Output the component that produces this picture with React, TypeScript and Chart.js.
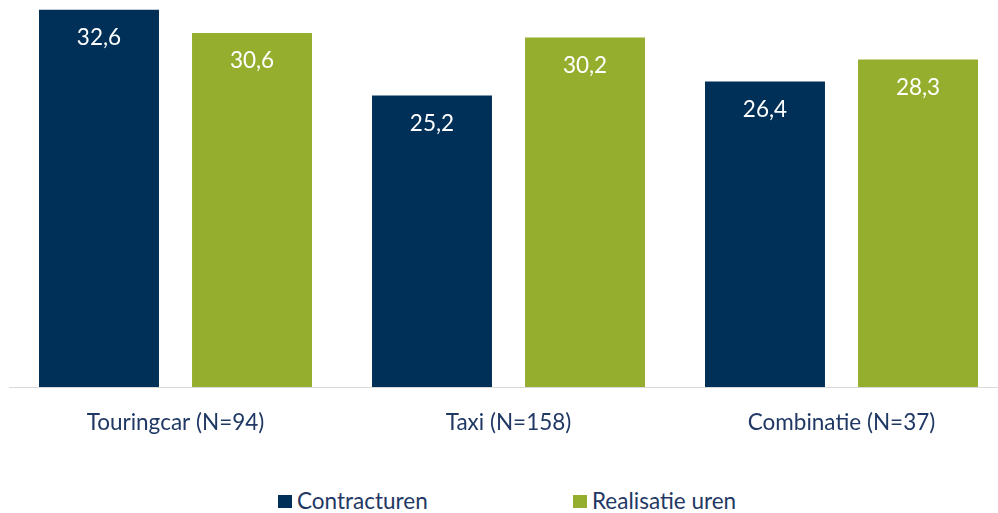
import React, { useEffect, useRef } from "react";
import { Chart, registerables } from "chart.js";

Chart.register(...registerables);

const categories = ["Touringcar (N=94)", "Taxi (N=158)", "Combinatie (N=37)"];
const contracturen = [32.6, 25.2, 26.4];
const realisatieUren = [30.6, 30.2, 28.3];
const seriesNames = ["Contracturen", "Realisatie uren"];
const yMax = 35;

const NAVY = "#003057";
const GREEN = "#95AE2E";
const TEXT = "#1F3864";
const FONT = "Lato, 'Open Sans', sans-serif";
const FS = 22.5;

const valueLabels = {
  id: "valueLabels",
  afterDatasetsDraw(chart: any) {
    const ctx = chart.ctx;
    ctx.save();
    ctx.font = `${FS}px ${FONT}`;
    ctx.fillStyle = "#ffffff";
    ctx.textAlign = "center";
    ctx.textBaseline = "middle";
    chart.data.datasets.forEach((ds: any, i: number) => {
      const meta = chart.getDatasetMeta(i);
      meta.data.forEach((bar: any, j: number) => {
        const v = ds.data[j] as number;
        ctx.fillText(v.toFixed(1).replace(".", ","), bar.x, bar.y + 28);
      });
    });
    ctx.restore();
  },
};

export default function App() {
  const ref = useRef<HTMLCanvasElement | null>(null);

  useEffect(() => {
    if (!ref.current) return;
    const chart = new Chart(ref.current, {
      type: "bar",
      data: {
        labels: categories,
        datasets: [
          {
            label: seriesNames[0],
            data: contracturen,
            backgroundColor: NAVY,
            categoryPercentage: 0.919,
            barPercentage: 0.784,
          },
          {
            label: seriesNames[1],
            data: realisatieUren,
            backgroundColor: GREEN,
            categoryPercentage: 0.919,
            barPercentage: 0.784,
          },
        ],
      },
      options: {
        animation: false,
        responsive: false,
        maintainAspectRatio: false,
        layout: { padding: 0 },
        plugins: {
          legend: { display: false },
          tooltip: { enabled: false },
        },
        scales: {
          x: {
            grid: { display: false, drawTicks: false },
            border: { display: true, color: "#D9D9D9", width: 1 },
            ticks: {
              color: TEXT,
              font: { family: FONT, size: FS },
              padding: 22,
              maxRotation: 0,
            },
            afterFit: (scale: any) => {
              scale.height = 55;
            },
          },
          y: {
            display: false,
            min: 0,
            max: yMax,
          },
        },
      },
      plugins: [valueLabels],
    });
    return () => chart.destroy();
  }, []);

  const legendText: React.CSSProperties = {
    position: "absolute",
    top: 487,
    fontFamily: FONT,
    fontSize: FS,
    lineHeight: "28px",
    color: TEXT,
    whiteSpace: "nowrap",
  };
  const box = (left: number, color: string): React.CSSProperties => ({
    position: "absolute",
    left,
    top: 495,
    width: 14,
    height: 13,
    background: color,
  });

  return (
    <div
      style={{
        position: "absolute",
        left: 0,
        top: 0,
        width: 998,
        height: 513,
        overflow: "hidden",
        background: "#ffffff",
      }}
    >
      <canvas
        ref={ref}
        width={999}
        height={460}
        style={{ position: "absolute", left: 9, top: -18, width: 999, height: 460 }}
      />
      <div style={box(278, NAVY)} />
      <div style={{ ...legendText, left: 297 }}>{seriesNames[0]}</div>
      <div style={box(573, GREEN)} />
      <div style={{ ...legendText, left: 592 }}>{seriesNames[1]}</div>
    </div>
  );
}
